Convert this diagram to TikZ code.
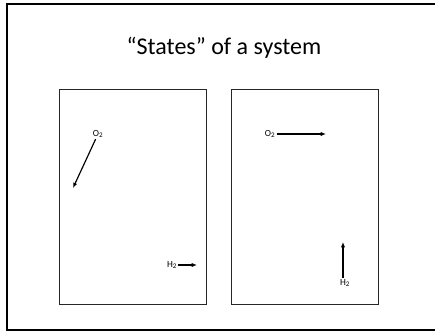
\documentclass[tikz,border=0pt]{standalone}
\usepackage{fontspec}
\setmainfont{Carlito}
\usetikzlibrary{arrows.meta, positioning}

\begin{document}
\begin{tikzpicture}[
    x=0.03cm, y=-0.03cm,
    >={Latex[length=4.5pt, width=3.6pt]},
    frame/.style={draw=black, line width=1.6pt},
    statebox/.style={draw=black!85, line width=0.8pt, minimum width=4.41cm, minimum height=6.45cm, inner sep=0pt},
    title/.style={font=\fontsize{20.5}{22}\selectfont},
    gas/.style={font=\fontsize{8}{9}\selectfont, inner sep=1pt},
    arrow/.style={->, line width=1pt}
]
\useasboundingbox (0,0) rectangle (435,331);

% Slide frame
\draw[frame] (440,4) -- (7,4) -- (7,330) -- (440,330);

% Title
\node[title] (heading) at (224,48) {“States” of a system};

% Boxes
\node[statebox] (stateA) at (132.5,196.5) {};
\node[statebox] (stateB) at (305,196.5) {};

% State A
\node[gas] (oxyA) at (98,134) {O\textsubscript{2}};
\coordinate (oxyAend) at (73,188);
\node[gas] (hydA) at (172,265) {H\textsubscript{2}};
\coordinate (hydAend) at (197,265);

% State B
\node[gas] (oxyB) at (270,134) {O\textsubscript{2}};
\coordinate (oxyBend) at (326,134);
\node[gas] (hydB) at (345,283) {H\textsubscript{2}};
\coordinate (hydBend) at (343,242);

% Arrows
\draw[arrow] (oxyA) -- (oxyAend);
\draw[arrow] (hydA) -- (hydAend);
\draw[arrow] (oxyB) -- (oxyBend);
\draw[arrow] (hydB.north -| hydBend) -- (hydBend);

\end{tikzpicture}
\end{document}
